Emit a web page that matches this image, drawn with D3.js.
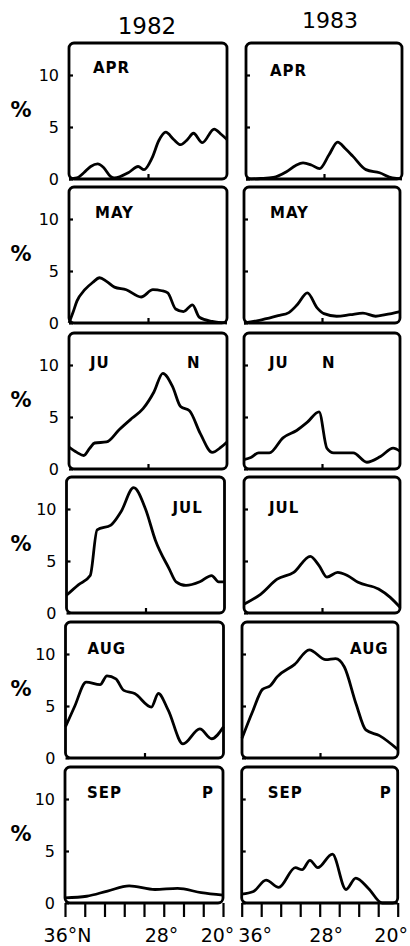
<!DOCTYPE html>
<html>
<head>
<meta charset="utf-8">
<script src="https://cdn.jsdelivr.net/npm/d3@7"></script>
<style>
body { margin: 0; background: #fff; }
svg text { font-family: "DejaVu Sans", sans-serif; fill: #000; }
</style>
</head>
<body>
<svg id="canvas"></svg>
<script>
const years = ["1982", "1983"];
const months = ["APR", "MAY", "JUN", "JUL", "AUG", "SEP"];
// panel captions (JUN and SEP are printed split in two)
const captions = [["APR"], ["MAY"], ["JU", "N"], ["JUL"], ["AUG"], ["SEP", "P"]];

const yTicks = [0, 5, 10];
const xTicks = [36, 34, 32, 30, 28, 26, 24, 22, 20];
const xLabelLats = [36, 28, 20];
const xLabels1982 = ["36°N", "28°", "20°"];
const xLabels1983 = ["36°", "28°", "20°"];

// [latitude, %]
const apr1982 = [[36,0],[35.2,0.1],[34.5,0.6],[33.8,1.2],[33.1,1.45],[32.5,1.1],[31.8,0.25],[31.4,0.1],[30,0.6],[29,1.2],[28.4,0.9],[27.6,2.0],[26.9,3.7],[26.2,4.5],[25.4,3.8],[24.7,3.3],[24,3.8],[23.4,4.4],[22.5,3.5],[21.3,4.8],[20.6,4.3],[20,3.8]];
const apr1983 = [[36,0],[34.5,0.05],[33.2,0.15],[31.85,0.7],[30.9,1.3],[30.15,1.55],[29.3,1.35],[28.45,1.0],[27.5,2.3],[26.6,3.55],[25.8,2.9],[25.05,2.2],[23.7,0.9],[22.3,0.6],[21,0.1],[20,0]];
const may1982 = [[36,0],[35.6,1.0],[35.2,2.1],[34.4,3.2],[33.6,3.9],[32.9,4.35],[32.2,4.0],[31.4,3.45],[30.2,3.2],[28.7,2.5],[27.5,3.2],[26.6,3.1],[26.0,2.9],[25.2,1.35],[24.4,1.1],[23.5,1.75],[22.8,0.55],[21.5,0.15],[20,0]];
const may1983 = [[36,0],[34.2,0.3],[32.5,0.7],[31.4,1.0],[30.5,1.8],[29.5,2.9],[28.5,1.45],[27.8,0.9],[26.5,0.65],[25.1,0.8],[23.8,0.95],[22.5,0.65],[21.5,0.8],[20,1.1]];
const jun1982 = [[36,2.1],[35.2,1.6],[34.5,1.3],[33.9,2.0],[33.4,2.5],[32.2,2.6],[30.9,3.8],[29.6,4.9],[28.5,5.8],[27.4,7.4],[26.5,9.2],[25.5,7.9],[24.7,6.0],[23.8,5.6],[22.7,3.4],[21.5,1.6],[20.6,2.1],[20,2.6]];
const jun1983 = [[36,0.9],[35.3,1.1],[34.5,1.55],[33.4,1.55],[32,3.0],[30.6,3.7],[29.5,4.5],[28.3,5.5],[27.5,2.0],[26.8,1.55],[24.8,1.55],[23.4,0.65],[22,1.2],[20.7,2.0],[20,1.7]];
const jul1982 = [[36,1.7],[34.8,2.7],[33.6,3.6],[32.9,8.0],[31.5,8.45],[30.5,9.7],[29.2,12.05],[28.0,10.0],[27.0,7.0],[25.6,4.25],[24.9,3.0],[23.9,2.65],[22.5,3.0],[21.3,3.6],[20.6,3.0],[20,3.0]];
const jul1983 = [[36,0.85],[34.3,1.8],[32.6,3.25],[30.9,3.9],[29.2,5.45],[28.3,4.55],[27.5,3.45],[26.4,3.9],[25.4,3.6],[24.3,2.95],[22.2,2.3],[21,1.5],[20,0.55]];
const aug1982 = [[36,3.0],[35.1,4.9],[33.9,7.3],[32.5,7.05],[31.8,7.9],[30.9,7.6],[30.1,6.5],[29.0,6.2],[27.3,4.9],[26.6,6.2],[25.6,4.6],[24.1,1.35],[22.4,2.8],[21.2,1.85],[20,3.0]];
const aug1983 = [[36,1.9],[34.9,4.5],[33.9,6.6],[33.1,6.95],[32.4,7.8],[30.6,9.0],[29.1,10.4],[27.4,9.45],[26.4,9.55],[25.5,8.75],[24.3,5.2],[23.3,2.7],[21.9,2.15],[20,0.8]];
const sep1982 = [[36,0.5],[33.8,0.65],[31.7,1.15],[29.5,1.65],[26.9,1.3],[24.6,1.4],[22.2,1.0],[20,0.75]];
const sep1983 = [[36,0.85],[34.8,1.1],[33.5,2.2],[32.2,1.5],[30.5,3.4],[29.8,3.2],[29.0,4.1],[28.2,3.4],[26.7,4.7],[25.3,1.3],[24.3,2.4],[23.0,1.4],[21.6,0],[20,0]];

const series = [
    [apr1982, apr1983],
    [may1982, may1983],
    [jun1982, jun1983],
    [jul1982, jul1983],
    [aug1982, aug1983],
    [sep1982, sep1983]
];

// layout (the scan drifts a little to the left going down)
const width = 410;
const height = 946;
const panelTops = [43, 187, 333, 477, 622, 767];
const panelH = 136;
const colX = [[69, 69, 69, 66.5, 65.5, 65], [246, 244, 244, 244, 242, 241.7]];
const colW = [158, 156];
const yMax = panelH / 10.4;

// caption offsets inside each panel [x, baseline] per part
const captionPos = [
    [[[24, 30]], [[24, 33]]],
    [[[26, 31]], [[26, 31]]],
    [[[21, 35], [118, 35]], [[25, 35], [78, 35]]],
    [[[106, 36]], [[25, 36]]],
    [[[22, 32]], [[108, 32]]],
    [[[22, 31], [137, 31]], [[26, 31], [138, 31]]]
];
const xLabelDx = [[2, 17, -6], [13, 6, -7]];

let canvas = d3.select('#canvas')
    .attr('width', width)
    .attr('height', height);

canvas.append('text')
    .attr('x', 147).attr('y', 34)
    .attr('text-anchor', 'middle')
    .style('font-size', '23px')
    .text(years[0]);
canvas.append('text')
    .attr('x', 330).attr('y', 28)
    .attr('text-anchor', 'middle')
    .style('font-size', '22px')
    .text(years[1]);

months.forEach((m, r) => {
    canvas.append('text')
        .attr('x', 21).attr('y', panelTops[r] + 74)
        .attr('text-anchor', 'middle')
        .style('font-size', '21px')
        .style('font-weight', 'bold')
        .text('%');

    years.forEach((yr, c) => {
        const w = colW[c];
        const g = canvas.append('g')
            .attr('transform', 'translate(' + colX[c][r] + ',' + panelTops[r] + ')');

        const xScale = d3.scaleLinear().domain([36, 20]).range([0, w]);
        const yScale = d3.scaleLinear().domain([0, yMax]).range([panelH, 0]);

        let yAxis = d3.axisLeft(yScale)
            .tickValues(yTicks)
            .tickSizeInner(-4)
            .tickSizeOuter(0)
            .tickPadding(10)
            .tickFormat(d => c === 0 ? d : '');
        const ya = g.append('g').call(yAxis);
        ya.select('.domain').remove();
        ya.selectAll('line').attr('stroke', '#000').attr('stroke-width', 2.2);
        ya.selectAll('text')
            .style('font-size', '16px')
            .attr('font-family', null);

        let xAxis;
        if (r < 5) {
            xAxis = d3.axisBottom(xScale)
                .tickValues([28])
                .tickSizeInner(-5)
                .tickSizeOuter(0)
                .tickFormat('');
        } else {
            const labels = c === 0 ? xLabels1982 : xLabels1983;
            xAxis = d3.axisBottom(xScale)
                .tickValues(xTicks)
                .tickSizeInner(14)
                .tickSizeOuter(0)
                .tickPadding(12)
                .tickFormat(d => {
                    const i = xLabelLats.indexOf(d);
                    return i < 0 ? '' : labels[i];
                });
        }
        const xa = g.append('g')
            .attr('transform', 'translate(0,' + panelH + ')')
            .call(xAxis);
        xa.select('.domain').remove();
        xa.selectAll('line').attr('stroke', '#000').attr('stroke-width', 2.2);
        xa.selectAll('text')
            .attr('font-family', null)
            .style('font-size', '19px')
            .attr('dx', d => {
                const i = xLabelLats.indexOf(d);
                return i < 0 ? 0 : xLabelDx[c][i];
            });

        g.append('rect')
            .attr('width', w)
            .attr('height', panelH)
            .attr('rx', 5)
            .attr('fill', 'none')
            .attr('stroke', '#000')
            .attr('stroke-width', 2.8);

        const line = d3.line()
            .x(d => xScale(d[0]))
            .y(d => yScale(d[1]))
            .curve(d3.curveMonotoneX);

        g.append('path')
            .datum(series[r][c])
            .attr('d', line)
            .attr('fill', 'none')
            .attr('stroke', '#000')
            .attr('stroke-width', 2.8)
            .attr('stroke-linejoin', 'round');

        captions[r].forEach((t, k) => {
            const p = captionPos[r][c][k];
            g.append('text')
                .attr('x', p[0]).attr('y', p[1])
                .style('font-size', '15px')
                .style('font-weight', 'bold')
                .style('letter-spacing', '1px')
                .text(t);
        });
    });
});
</script>
</body>
</html>
